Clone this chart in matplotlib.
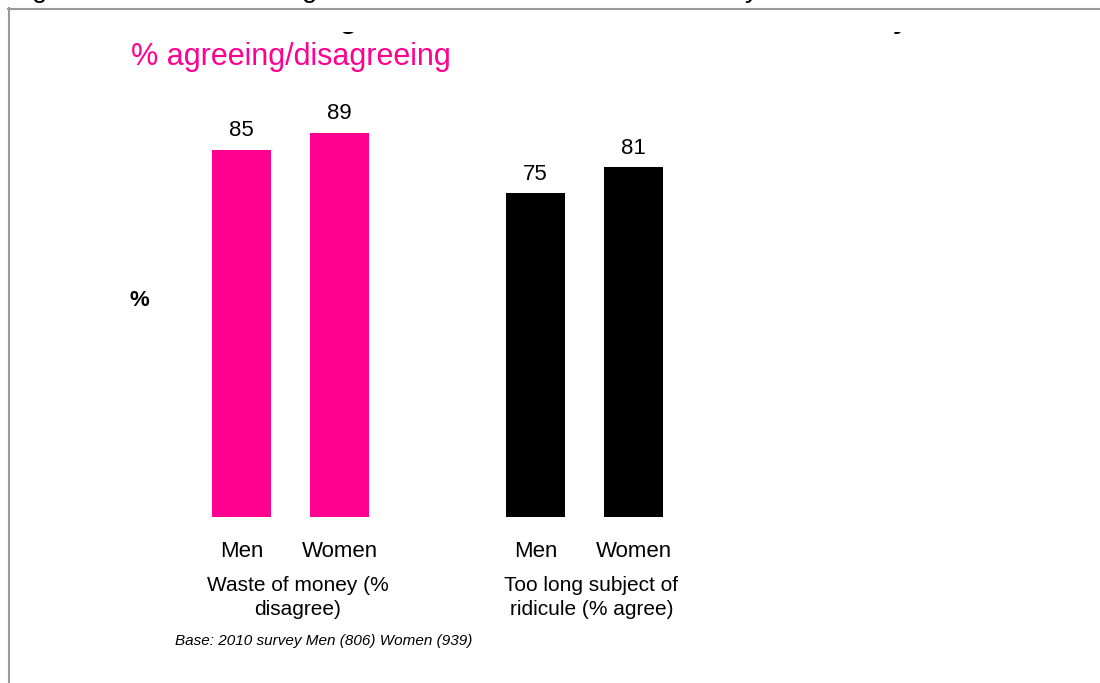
import matplotlib
matplotlib.use('Agg')
import matplotlib.pyplot as plt
from matplotlib.lines import Line2D
from matplotlib.patches import Rectangle

plt.rcParams['font.family'] = ['Liberation Sans', 'DejaVu Sans']

# Survey answers by sex, two statements
sexes = ['Men', 'Women']
statements = ['Waste of money (%\ndisagree)', 'Too long subject of\nridicule (% agree)']
waste_of_money = [85, 89]
subject_of_ridicule = [75, 81]
bar_colors = ['#FF0090', '#000000']
base_note = 'Base: 2010 survey Men (806) Women (939)'

W, H = 1100, 683
fig = plt.figure(figsize=(W / 100, H / 100), dpi=100)

def fx(px):
    return px / W

def fy(py):
    return 1 - py / H

# axes placed so one x unit is 98 px and 0..100 spans 432 px
ax = fig.add_axes([fx(143.5), fy(517), fx(686), 432 / H])
ax.set_xlim(-1, 6)
ax.set_ylim(0, 100)
ax.axis('off')

groups = [waste_of_money, subject_of_ridicule]
starts = [0, 3]
for vals, x0, col, label in zip(groups, starts, bar_colors, statements):
    xs = [x0 + i for i in range(len(vals))]
    bars = ax.bar(xs, vals, width=0.6, color=col)
    for b, v in zip(bars, vals):
        ax.annotate(str(v), (b.get_x() + b.get_width() / 2, v),
                    xytext=(0, 6), textcoords='offset points',
                    ha='center', va='bottom', fontsize=16)
    for x, s in zip(xs, sexes):
        ax.annotate(s, (x, 0), xytext=(0, -24.5), textcoords='offset points',
                    ha='center', va='center', fontsize=16)
    ax.annotate(label, (x0 + 0.5, 0), xytext=(5, -58), textcoords='offset points',
                ha='center', va='center', fontsize=15, linespacing=1.35)

fig.text(fx(175), fy(641), base_note, fontsize=11, style='italic',
         ha='left', va='center')

fig.text(fx(131), fy(57), '% agreeing/disagreeing', fontsize=22,
         color='#FF0090', ha='left', va='center')
fig.text(fx(129), fy(301), '%', fontsize=16, fontweight='bold',
         ha='left', va='center')

# title line above the frame, only its descenders fall inside the picture
for px, ch in [(32, 'g'), (302, 'g'), (710, ','), (745, 'y')]:
    fig.text(fx(px), fy(-3), ch, fontsize=20, ha='left', va='baseline')

# second title line mostly hidden behind a white box
for px, ch in [(340, 'g'), (893, 'y')]:
    fig.text(fx(px), fy(28), ch, fontsize=20, fontweight='bold',
             ha='left', va='baseline', zorder=1)
fig.patches.append(Rectangle((fx(300), fy(32)), fx(700), (32 - 11) / H,
                             transform=fig.transFigure, facecolor='white',
                             edgecolor='none', zorder=2))

# grey frame, top and left edges
fig.lines.append(Line2D([fx(8), 1], [fy(8.5), fy(8.5)], transform=fig.transFigure,
                        color='#999999', lw=1.5))
fig.lines.append(Line2D([fx(8.5), fx(8.5)], [fy(8), 0], transform=fig.transFigure,
                        color='#999999', lw=1.5))

fig.savefig('out.png', dpi=100)
